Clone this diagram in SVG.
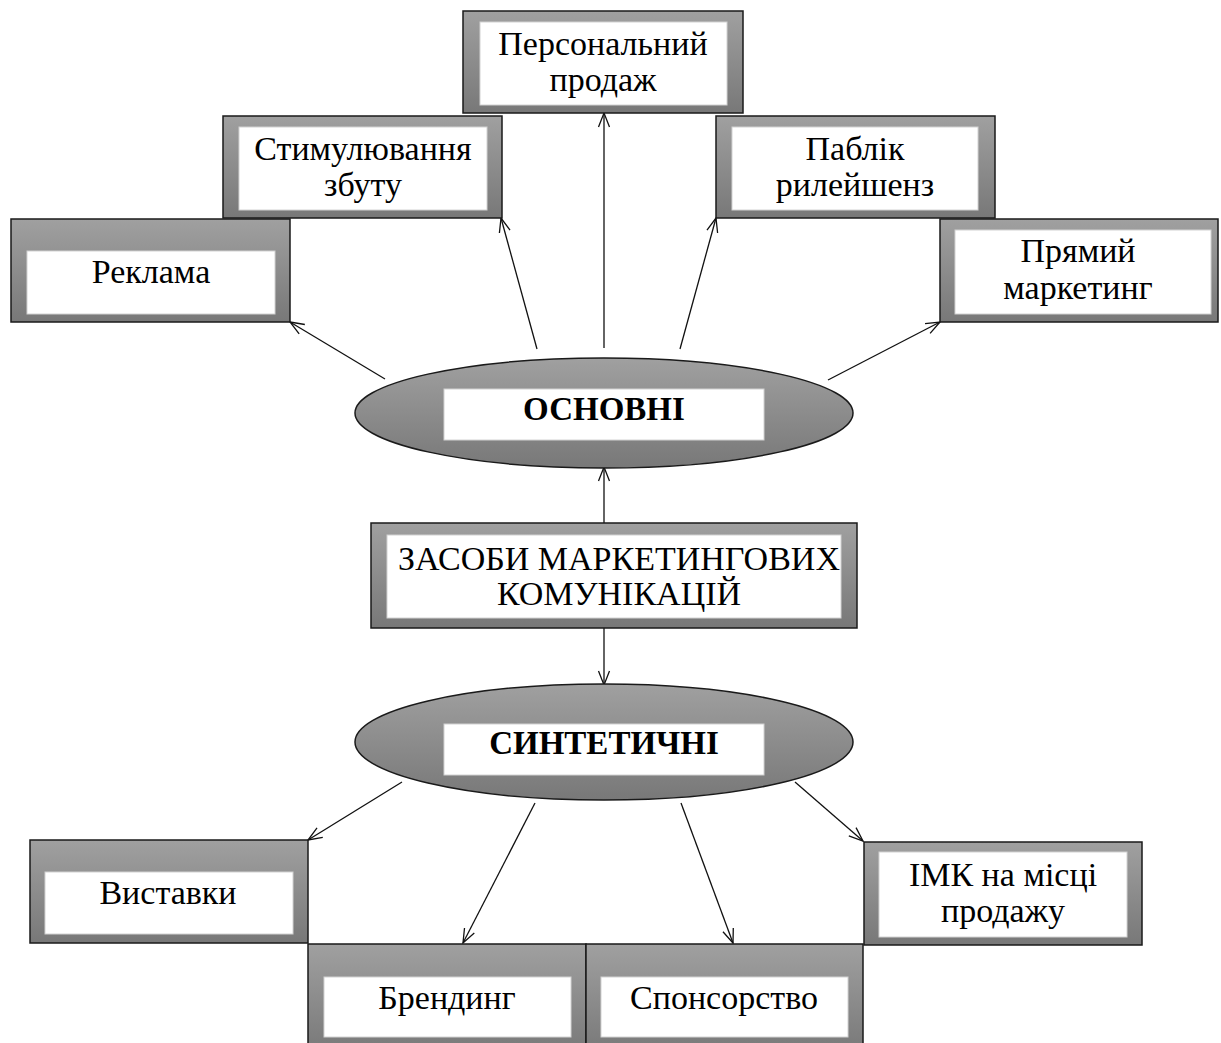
<svg xmlns="http://www.w3.org/2000/svg" width="1221" height="1043" viewBox="0 0 1221 1043">
  <defs>
    <linearGradient id="g" x1="0" y1="0" x2="0" y2="1">
      <stop offset="0" stop-color="#a0a0a0"/>
      <stop offset="1" stop-color="#787878"/>
    </linearGradient>
    <marker id="ah" viewBox="-16 -8 18 16" markerWidth="18" markerHeight="16" refX="0" refY="0" orient="auto" markerUnits="userSpaceOnUse">
      <path d="M-14,-5.5 L0,0 L-14,5.5" fill="none" stroke="#111" stroke-width="1.3"/>
    </marker>
    <style>
      .frame { fill: url(#g); stroke: #1a1a1a; stroke-width: 1.5; }
      .inner { fill: #ffffff; stroke: #d2d2d2; stroke-width: 1; }
      .t { font-family: "Liberation Serif", "Times New Roman", serif; font-size: 34px; fill: #000; text-anchor: middle; }
      .b { font-weight: bold; font-size: 33px; }
      .c { stroke: #111; stroke-width: 1.3; fill: none; marker-end: url(#ah); }
    </style>
  </defs>

  <g id="connectors">
    <line class="c" x1="385" y1="379" x2="290" y2="322"/>
    <line class="c" x1="537" y1="349" x2="501" y2="218"/>
    <line class="c" x1="604" y1="348" x2="604" y2="113"/>
    <line class="c" x1="680" y1="349" x2="716" y2="218"/>
    <line class="c" x1="828" y1="380" x2="940" y2="322"/>
    <line class="c" x1="604" y1="523" x2="604" y2="467"/>
    <line class="c" x1="604" y1="628" x2="604" y2="685"/>
    <line class="c" x1="402" y1="782" x2="308" y2="840"/>
    <line class="c" x1="535" y1="803" x2="463" y2="943"/>
    <line class="c" x1="681" y1="803" x2="733" y2="943"/>
    <line class="c" x1="795" y1="782" x2="863" y2="841"/>
  </g>

  <g id="node-personal">
    <rect class="frame" x="463" y="11" width="280" height="102"/>
    <rect class="inner" x="480" y="22" width="247" height="83"/>
    <text class="t" x="603" y="55">Персональний</text>
    <text class="t" x="603" y="91">продаж</text>
  </g>

  <g id="node-stimul">
    <rect class="frame" x="223" y="116" width="279" height="102"/>
    <rect class="inner" x="239" y="127" width="248" height="83"/>
    <text class="t" x="363" y="160">Стимулювання</text>
    <text class="t" x="363" y="196">збуту</text>
  </g>

  <g id="node-pr">
    <rect class="frame" x="716" y="116" width="279" height="102"/>
    <rect class="inner" x="732" y="127" width="246" height="83"/>
    <text class="t" x="855" y="160">Паблік</text>
    <text class="t" x="855" y="196">рилейшенз</text>
  </g>

  <g id="node-reklama">
    <rect class="frame" x="11" y="219" width="279" height="103"/>
    <rect class="inner" x="27" y="251" width="248" height="63"/>
    <text class="t" x="151" y="283">Реклама</text>
  </g>

  <g id="node-direct">
    <rect class="frame" x="940" y="219" width="278" height="103"/>
    <rect class="inner" x="955" y="230" width="256" height="84"/>
    <text class="t" x="1078" y="262">Прямий</text>
    <text class="t" x="1078" y="299">маркетинг</text>
  </g>

  <g id="node-osnovni">
    <ellipse class="frame" cx="604" cy="413" rx="249" ry="55"/>
    <rect class="inner" x="444" y="389" width="320" height="51"/>
    <text class="t b" x="604" y="420">ОСНОВНІ</text>
  </g>

  <g id="node-zasoby">
    <rect class="frame" x="371" y="523" width="486" height="105"/>
    <rect class="inner" x="387" y="535" width="454" height="83"/>
    <text class="t" x="619" y="570">ЗАСОБИ МАРКЕТИНГОВИХ</text>
    <text class="t" x="619" y="605">КОМУНІКАЦІЙ</text>
  </g>

  <g id="node-syntetychni">
    <ellipse class="frame" cx="604" cy="742" rx="249" ry="58"/>
    <rect class="inner" x="444" y="724" width="320" height="51"/>
    <text class="t b" x="604" y="754">СИНТЕТИЧНІ</text>
  </g>

  <g id="node-vystavky">
    <rect class="frame" x="30" y="840" width="278" height="103"/>
    <rect class="inner" x="45" y="872" width="248" height="62"/>
    <text class="t" x="168" y="904">Виставки</text>
  </g>

  <g id="node-brending">
    <rect class="frame" x="308" y="944" width="278" height="110"/>
    <rect class="inner" x="324" y="977" width="247" height="60"/>
    <text class="t" x="447" y="1009">Брендинг</text>
  </g>

  <g id="node-sponsor">
    <rect class="frame" x="586" y="944" width="277" height="110"/>
    <rect class="inner" x="601" y="977" width="247" height="60"/>
    <text class="t" x="724" y="1009">Спонсорство</text>
  </g>

  <g id="node-imk">
    <rect class="frame" x="864" y="842" width="278" height="103"/>
    <rect class="inner" x="879" y="852" width="248" height="85"/>
    <text class="t" x="1003" y="886">ІМК на місці</text>
    <text class="t" x="1003" y="922">продажу</text>
  </g>
</svg>
